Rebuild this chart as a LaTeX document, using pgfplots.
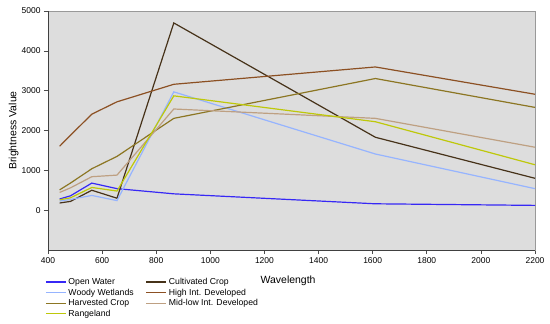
\documentclass[border=0pt]{standalone}
\usepackage{pgfplots}
\pgfplotsset{compat=1.18}
\usepackage{fontspec}
\setmainfont{Liberation Sans}
\definecolor{bgc}{RGB}{221,221,221}
\definecolor{cOW}{RGB}{55,40,245}
\definecolor{cWW}{RGB}{150,180,255}
\definecolor{cHC}{RGB}{140,118,35}
\definecolor{cRL}{RGB}{190,200,10}
\definecolor{cCC}{RGB}{70,50,25}
\definecolor{cHI}{RGB}{140,80,35}
\definecolor{cML}{RGB}{190,160,130}
\begin{document}
\begin{tikzpicture}
\begin{axis}[
  scale only axis, width=487bp, height=239bp,
  xmin=400, xmax=2200, ymin=-1000, ymax=5000,
  xtick={400,600,...,2200}, ytick={0,1000,...,5000},
  /pgf/number format/set thousands separator={},
  /pgf/number format/assume math mode=true,
  ticklabel style={font=\fontsize{8.5}{10}\selectfont},
  tick align=outside, major tick length=4bp,
  xtick pos=bottom, ytick pos=left,
  tick style={black!70, line width=0.6bp},
  axis background/.style={fill=bgc},
  axis line style={draw=gray!80, line width=0.7bp},
  ylabel={Brightness Value},
  ylabel style={font=\fontsize{10.5}{12}\selectfont, at={(axis description cs:0,0.5)}, anchor=south, xshift=0bp, yshift=26bp},
  xlabel={Wavelength},
  xlabel style={font=\fontsize{10.5}{12}\selectfont, at={(axis description cs:0.493,0)}, anchor=center, yshift=-31bp},
  legend columns=2,
  legend cell align=left,
  legend style={at={(axis description cs:0,0)}, anchor=north west, xshift=-3bp, yshift=-26bp,
    draw=none, fill=none, font=\fontsize{8.7}{9.5}\selectfont,
    inner sep=0pt, row sep=-1.2pt, /tikz/every even column/.append style={column sep=10bp}},
  legend image code/.code={\draw[#1, line width=1.3bp] (0bp,0bp) -- (20bp,0bp);},
  every axis plot/.append style={line width=1.2bp, mark=none},
]
\addplot[cOW] coordinates {(443,280) (483,360) (562,680) (655,540) (865,410) (1610,160) (2200,120)};
\addlegendentry{Open Water}
\addplot[cCC] coordinates {(443,180) (483,220) (562,500) (655,300) (865,4700) (1610,1830) (2200,800)};
\addlegendentry{Cultivated Crop}
\addplot[cWW] coordinates {(443,230) (483,270) (562,370) (655,240) (865,2970) (1610,1410) (2200,540)};
\addlegendentry{Woody Wetlands}
\addplot[cHI] coordinates {(443,1605) (483,1880) (562,2410) (655,2720) (865,3160) (1610,3595) (2200,2910)};
\addlegendentry{High Int. Developed}
\addplot[cHC] coordinates {(443,510) (483,680) (562,1040) (655,1350) (865,2305) (1610,3305) (2200,2580)};
\addlegendentry{Harvested Crop}
\addplot[cML] coordinates {(443,445) (483,560) (562,840) (655,880) (865,2540) (1610,2305) (2200,1580)};
\addlegendentry{Mid-low Int. Developed}
\addplot[cRL] coordinates {(443,260) (483,310) (562,570) (655,480) (865,2870) (1610,2220) (2200,1140)};
\addlegendentry{Rangeland}
\draw[black!75, line width=0.8bp] (rel axis cs:0,1) -- (rel axis cs:0,0) -- (rel axis cs:1,0);
\end{axis}
\pgfresetboundingbox
\path (-48bp,-74bp) rectangle (502bp,250bp);
\end{tikzpicture}
\end{document}
